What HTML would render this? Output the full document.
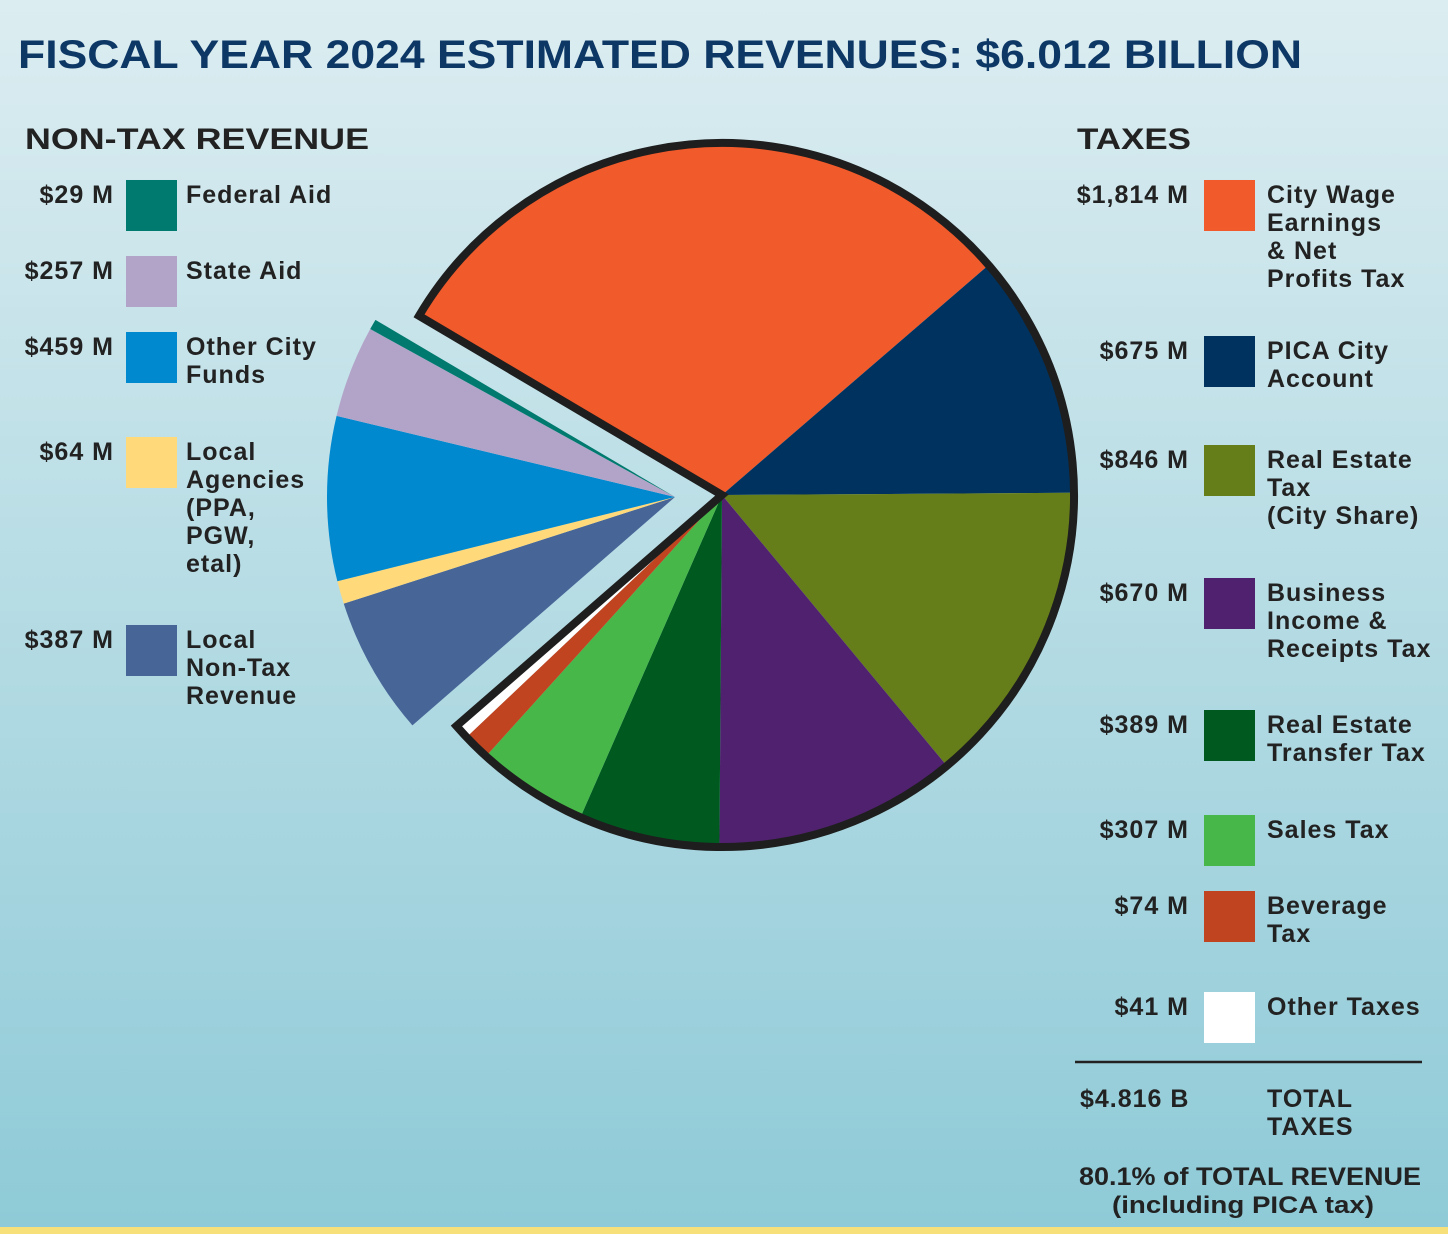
<!DOCTYPE html>
<html><head><meta charset="utf-8"><style>
html,body{margin:0;padding:0;}
body{width:1448px;height:1234px;overflow:hidden;}
svg{display:block;font-family:"Liberation Sans",Arial,sans-serif;font-weight:bold;}
</style></head><body>
<svg id="chart" width="1448" height="1234" viewBox="0 0 1448 1234" xmlns="http://www.w3.org/2000/svg">
<defs><linearGradient id="bg" x1="0" y1="0" x2="0" y2="1"><stop offset="0" stop-color="#dcedf1"/><stop offset="1" stop-color="#8ecad7"/></linearGradient></defs>
<rect x="0" y="0" width="1448" height="1234" fill="url(#bg)"/>
<rect x="0" y="1227" width="1448" height="7" fill="#f7e07a"/>
<text x="18" y="68" font-size="40" fill="#0d3866" textLength="1284" lengthAdjust="spacingAndGlyphs">FISCAL YEAR 2024 ESTIMATED REVENUES: $6.012 BILLION</text>
<text x="25" y="149" font-size="30" fill="#222" textLength="344" lengthAdjust="spacingAndGlyphs">NON-TAX REVENUE</text>
<text x="1077" y="149" font-size="30" fill="#222" textLength="114" lengthAdjust="spacingAndGlyphs">TAXES</text>
<g id="pie"></g>
<g id="legend" letter-spacing="1"></g>
<line x1="1075" y1="1062" x2="1422" y2="1062" stroke="#222" stroke-width="2.5"/>
<text x="1080" y="1107" font-size="25" fill="#222" letter-spacing="1">$4.816 B</text>
<text x="1267" y="1107" font-size="25" fill="#222" letter-spacing="1">TOTAL</text>
<text x="1267" y="1135" font-size="25" fill="#222" letter-spacing="1">TAXES</text>
<text x="1250" y="1185" font-size="25" fill="#222" text-anchor="middle" textLength="342" lengthAdjust="spacingAndGlyphs">80.1% of TOTAL REVENUE</text>
<text x="1243" y="1213" font-size="24" fill="#222" text-anchor="middle" textLength="262" lengthAdjust="spacingAndGlyphs">(including PICA tax)</text>
</svg>
<script>
const taxNames=["City Wage Earnings & Net Profits Tax","PICA City Account","Real Estate Tax (City Share)","Business Income & Receipts Tax","Real Estate Transfer Tax","Sales Tax","Beverage Tax","Other Taxes"];
const taxValues=[1814,675,846,670,389,307,74,41];
const taxLabels=["$1,814 M","$675 M","$846 M","$670 M","$389 M","$307 M","$74 M","$41 M"];
const taxLines=[["City Wage","Earnings","& Net","Profits Tax"],["PICA City","Account"],["Real Estate","Tax","(City Share)"],["Business","Income &","Receipts Tax"],["Real Estate","Transfer Tax"],["Sales Tax"],["Beverage","Tax"],["Other Taxes"]];
const taxColors=["#f15a2b","#00325f","#667e1a","#50216e","#005a20","#48b749","#c0441f","#ffffff"];
const nonTaxNames=["Local Non-Tax Revenue","Local Agencies","Other City Funds","State Aid","Federal Aid"];
const nonTaxValues=[387,64,459,257,29];
const nonTaxLabels=["$387 M","$64 M","$459 M","$257 M","$29 M"];
const nonTaxLines=[["Local","Non-Tax","Revenue"],["Local","Agencies","(PPA,","PGW,","etal)"],["Other City","Funds"],["State Aid"],["Federal Aid"]];
const nonTaxColors=["#476597","#ffd97a","#0089cf","#b2a4c8","#007a6e"];

const NS="http://www.w3.org/2000/svg";
const total=taxValues.concat(nonTaxValues).reduce((a,b)=>a+b,0);
const startDeg=210.6;
function ang(v){return v/total*360;}
function pt(cx,cy,r,d){const a=d*Math.PI/180;return [cx+r*Math.cos(a),cy+r*Math.sin(a)];}
function wedge(cx,cy,r,a0,a1){const p0=pt(cx,cy,r,a0),p1=pt(cx,cy,r,a1);const large=(a1-a0)>180?1:0;
 return `M${cx},${cy} L${p0[0]},${p0[1]} A${r},${r} 0 ${large} 1 ${p1[0]},${p1[1]} Z`;}
const pie=document.getElementById('pie');
let a=startDeg;
const tcx=722,tcy=495,tr=352;
const taxStart=a;
taxValues.forEach((v,i)=>{const s=ang(v);const p=document.createElementNS(NS,'path');
 p.setAttribute('d',wedge(tcx,tcy,tr,a,a+s));p.setAttribute('fill',taxColors[i]);
 
 
 pie.appendChild(p);a+=s;});
const taxEnd=a;
const outline=document.createElementNS(NS,'path');
outline.setAttribute('d',wedge(tcx,tcy,tr,taxStart,taxEnd));
outline.setAttribute('fill','none');outline.setAttribute('stroke','#1e1e1e');outline.setAttribute('stroke-width','8');outline.setAttribute('stroke-linejoin','miter');


pie.appendChild(outline);
const ncx=675,ncy=497,nr=348;
nonTaxValues.forEach((v,i)=>{const s=ang(v);const p=document.createElementNS(NS,'path');
 p.setAttribute('d',wedge(ncx,ncy,nr,a,a+s));p.setAttribute('fill',nonTaxColors[i]);
 
 
 pie.appendChild(p);a+=s;});

const legend=document.getElementById('legend');
function addText(x,y,str,anchor,name){const t=document.createElementNS(NS,'text');t.setAttribute('x',x);t.setAttribute('y',y);
 t.setAttribute('font-size','25');t.setAttribute('fill','#222');if(anchor)t.setAttribute('text-anchor',anchor);t.textContent=str;
 
 
 legend.appendChild(t);}
function addEntry(sx,top,color,val,lines,name,vx,lx){
 const r=document.createElementNS(NS,'rect');r.setAttribute('x',sx);r.setAttribute('y',top);r.setAttribute('width',51);r.setAttribute('height',51);r.setAttribute('fill',color);
 
 
 legend.appendChild(r);
 addText(vx,top+23,val,'end','legend-value-'+name);
 lines.forEach((l,j)=>addText(lx,top+23+j*28,l,null,'legend-label-'+name));}
const nonTaxTops=[625,437,332,256,180];
nonTaxValues.forEach((v,i)=>{const nm=nonTaxNames[i].toLowerCase().replace(/[^a-z]+/g,'-');
 addEntry(126,nonTaxTops[i],nonTaxColors[i],nonTaxLabels[i],nonTaxLines[i],nm,114,186);});
const taxTops=[180,336,445,578,710,815,891,992];
taxValues.forEach((v,i)=>{const nm=taxNames[i].toLowerCase().replace(/[^a-z]+/g,'-');
 addEntry(1204,taxTops[i],taxColors[i],taxLabels[i],taxLines[i],nm,1189,1267);});
</script>
</body></html>
